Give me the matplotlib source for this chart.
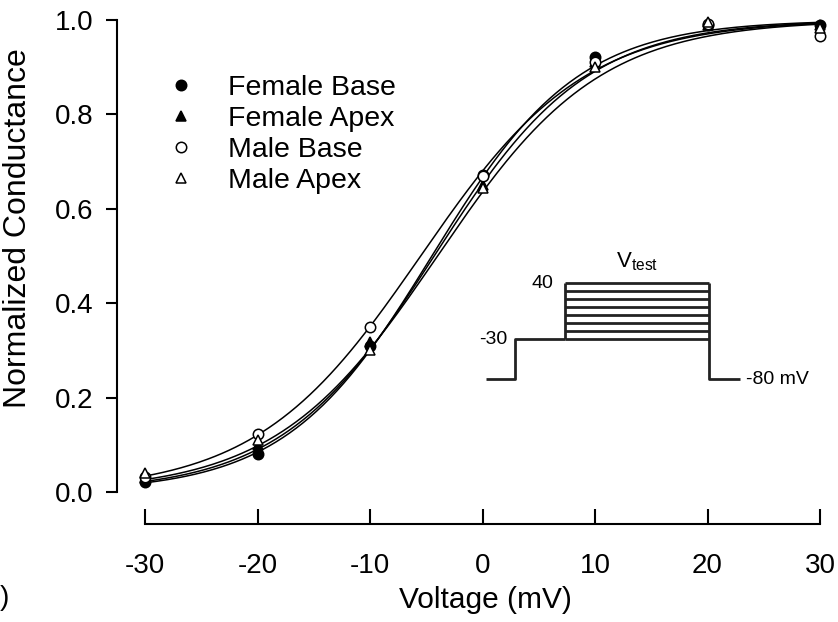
import numpy as np
import matplotlib
matplotlib.use("Agg")
import matplotlib.pyplot as plt

plt.rcParams['font.family'] = ['Liberation Sans', 'DejaVu Sans']
plt.rcParams['mathtext.fontset'] = 'custom'
plt.rcParams['mathtext.rm'] = 'Liberation Sans'
plt.rcParams['mathtext.it'] = 'Liberation Sans'

# ---- data ----
voltage = [-30, -20, -10, 0, 10, 20, 30]
female_base = [0.021, 0.080, 0.310, 0.672, 0.922, 0.990, 0.990]
female_apex = [0.030, 0.100, 0.318, 0.650, 0.910, 0.990, 0.990]
male_base = [0.032, 0.122, 0.350, 0.670, 0.910, 0.992, 0.966]
male_apex = [0.040, 0.110, 0.300, 0.645, 0.900, 0.995, 0.982]
series_names = ["Female Base", "Female Apex", "Male Base", "Male Apex"]
# Boltzmann fit parameters (V1/2, slope k)
fit_vhalf = [-4.5, -4.3, -5.5, -4.0]
fit_k = [6.5, 6.8, 7.3, 7.2]

# pulse protocol inset
proto_times = [0, 29, 79, 223, 254]
holding_mv = -80
prepulse_mv = -30
test_levels = [-30, -20, -10, 0, 10, 20, 30, 40]

W, H = 838, 622
fig = plt.figure(figsize=(W / 100, H / 100), dpi=100)

def px(x0, y0, x1, y1):
    return [x0 / W, 1 - y1 / H, (x1 - x0) / W, (y1 - y0) / H]

ax = fig.add_axes(px(145, 20, 820, 492))
ax.set_xlim(-30, 30)
ax.set_ylim(0, 1)

vv = np.linspace(-30, 30, 300)
for vh, k in zip(fit_vhalf, fit_k):
    ax.plot(vv, 1.0 / (1.0 + np.exp((vh - vv) / k)), color='black', lw=1.1,
            zorder=2, clip_on=False)

styles = [dict(marker='o', mfc='black'), dict(marker='^', mfc='black'),
          dict(marker='o', mfc='white'), dict(marker='^', mfc='white')]
data = [female_base, female_apex, male_base, male_apex]
handles = []
for name, ys, st in zip(series_names, data, styles):
    h, = ax.plot(voltage, ys, linestyle='none', marker=st['marker'],
                 mfc=st['mfc'], mec='black', mew=1.1, ms=7.5, zorder=3,
                 clip_on=False, label=name)
    handles.append(h)

for s in ['top', 'right']:
    ax.spines[s].set_visible(False)
ax.spines['left'].set_position(('outward', 20))
ax.spines['bottom'].set_position(('outward', 23))
for s in ['left', 'bottom']:
    ax.spines[s].set_linewidth(1.5)

ax.set_xticks(voltage)
ax.set_xticklabels([str(v) for v in voltage])
ax.set_yticks([0.0, 0.2, 0.4, 0.6, 0.8, 1.0])
ax.set_yticklabels(["0.0", "0.2", "0.4", "0.6", "0.8", "1.0"])
ax.tick_params(axis='y', direction='out', length=8, width=1.5, pad=9,
               labelsize=20)
ax.tick_params(axis='x', direction='in', length=11, width=1.5, pad=21,
               labelsize=20)
ax.set_xlabel("Voltage (mV)", fontsize=21.5)
ax.xaxis.set_label_coords(485 / W, 1 - 600 / H, transform=fig.transFigure)
ax.set_ylabel("Normalized Conductance", fontsize=23)
ax.yaxis.set_label_coords(18 / W, 1 - 228 / H, transform=fig.transFigure)
ax.yaxis.label.set_va('center')
ax.xaxis.label.set_va('center')

leg = ax.legend(handles=handles, loc='upper left',
                bbox_to_anchor=(167 / W, 1 - 75 / H),
                bbox_transform=fig.transFigure, frameon=False,
                fontsize=20.5, handlelength=0.95, handletextpad=1.2,
                labelspacing=0.18, borderpad=0, borderaxespad=0,
                markerscale=1.0)

# inset protocol
iax = fig.add_axes(px(486, 283, 740, 379))
iax.set_xlim(proto_times[0], proto_times[-1])
iax.set_ylim(holding_mv, max(test_levels))
iax.axis('off')
t0, t1, t2, t3, t4 = proto_times
kw = dict(color='#222222', lw=2.0, clip_on=False, solid_capstyle='butt')
iax.plot([t0, t1, t1, t2], [holding_mv, holding_mv, prepulse_mv, prepulse_mv], **kw)
for lv in test_levels:
    iax.plot([t2, t3], [lv, lv], **kw)
iax.plot([t2, t2], [prepulse_mv, max(test_levels)], **kw)
iax.plot([t3, t3, t4], [max(test_levels), holding_mv, holding_mv], **kw)
iax.text(t2 - 12, max(test_levels), str(max(test_levels)), ha='right',
         va='center', fontsize=14)
iax.text(t1 - 8, prepulse_mv, str(prepulse_mv), ha='right', va='center',
         fontsize=14)
iax.text(t4 + 6, holding_mv, f"{holding_mv} mV", ha='left', va='center',
         fontsize=14)
iax.text((t2 + t3) / 2, max(test_levels) + 12, r"V$_{\mathrm{test}}$",
         ha='center', va='bottom', fontsize=16)

fig.text(0 / W, 1 - 598 / H, ")", ha='left', va='center', fontsize=20)

fig.savefig("out.png", dpi=100)
